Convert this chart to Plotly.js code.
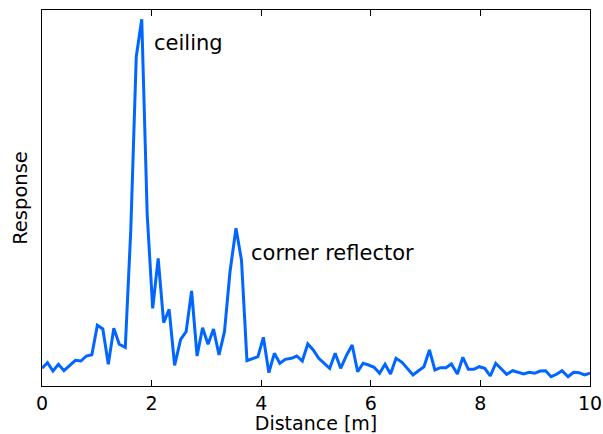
<!DOCTYPE html>
<html>
<head>
<meta charset="utf-8">
<script src="https://cdn.plot.ly/plotly-3.0.1.min.js"></script>
<style>html,body{margin:0;padding:0;background:#fff;}#chart{width:603px;height:434px;}</style>
</head>
<body>
<div id="chart"></div>
<script>
const distance = [0.00,0.10,0.20,0.30,0.40,0.51,0.61,0.71,0.81,0.91,1.01,1.11,1.21,1.31,1.41,1.52,1.62,1.72,1.82,1.92,2.02,2.12,2.22,2.32,2.42,2.53,2.63,2.73,2.83,2.93,3.03,3.13,3.23,3.33,3.43,3.54,3.64,3.74,3.84,3.94,4.04,4.14,4.24,4.34,4.44,4.55,4.65,4.75,4.85,4.95,5.05,5.15,5.25,5.35,5.45,5.56,5.66,5.76,5.86,5.96,6.06,6.16,6.26,6.36,6.46,6.57,6.67,6.77,6.87,6.97,7.07,7.17,7.27,7.37,7.47,7.58,7.68,7.78,7.88,7.98,8.08,8.18,8.28,8.38,8.48,8.59,8.69,8.79,8.89,8.99,9.09,9.19,9.29,9.39,9.49,9.60,9.70,9.80,9.90,10.00];
const response = [17.7,23.3,15,21.7,15.3,21,25.7,25,30,31.3,
  60.7,57,21.7,57.7,41.7,38.7,156,329.3,366.7,171,
  77.7,127.7,63.3,76.7,20.7,46.7,54.3,95,30,58.3,
  41.7,57,31,54.3,114,157.7,126,25.3,27.7,29.3,
  48.7,13.3,32.7,22.7,26.7,27.7,30,25,42,36,
  27.7,22.7,17.7,32.7,17.7,31,41,14.3,22.7,21,
  18.7,12.7,21.7,12,27.7,23.7,17.7,11,15.3,19.3,
  36,16,18.3,18.3,22,12,28.7,16.7,16.7,19.3,
  17.7,10,22.7,16.7,11.7,15.3,13.3,12,13.7,12.7,
  15,15.3,9.3,11.7,15.3,9.3,13.7,13.3,11,12.7];
const xTickVals = [0,2,4,6,8,10];
const xTickText = ["0","2","4","6","8","10"];
const labels = ["ceiling","corner reflector"];
const labelX = [2.01,3.78];
const labelY = [343,133];

const font = "DejaVu Sans, sans-serif";
Plotly.newPlot("chart",[{
  x: distance, y: response, type: "scatter", mode: "lines",
  line: {color: "#0066ff", width: 3}, hoverinfo: "skip"
}],{
  width: 603, height: 434,
  margin: {l: 42, r: 13, t: 10, b: 48},
  paper_bgcolor: "#fff", plot_bgcolor: "#fff",
  showlegend: false,
  font: {family: font, color: "#000", size: 19},
  xaxis: {range: [0,10], tickvals: xTickVals, ticktext: xTickText,
    ticks: "inside", ticklen: 6, tickcolor: "#000", tickwidth: 1,
    showline: true, linecolor: "#000", linewidth: 1, mirror: "ticks",
    showgrid: false, zeroline: false,
    tickfont: {family: font, size: 19, color: "#000"},
    title: {text: "Distance [m]", font: {family: font, size: 19, color: "#000"}, standoff: 6}},
  yaxis: {range: [0,376], showticklabels: false, ticks: "",
    showline: true, linecolor: "#000", linewidth: 1, mirror: true,
    showgrid: false, zeroline: false,
    title: {text: "Response", font: {family: font, size: 19.5, color: "#000"}, standoff: 8}},
  annotations: labels.map((t,i)=>({x: labelX[i], y: labelY[i], xref: "x", yref: "y",
    text: t, showarrow: false, xanchor: "left", yanchor: "middle",
    font: {family: font, size: 21, color: "#000"}}))
},{staticPlot: true});
</script>
</body>
</html>
